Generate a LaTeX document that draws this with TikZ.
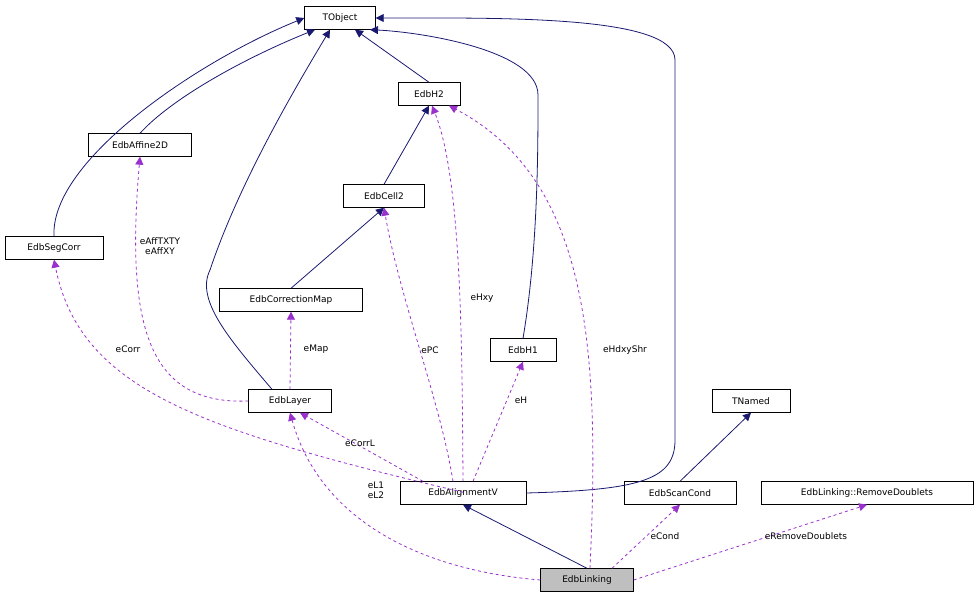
\documentclass[tikz,border=0pt]{standalone}
\usepackage{fontspec}
\setmainfont{DejaVu Sans}
\usetikzlibrary{arrows.meta}
\begin{document}
\begin{tikzpicture}[x=1pt,y=-1pt,
 box/.style={draw=black,fill=white,inner sep=0pt,minimum height=23pt,font=\fontsize{9}{10}\selectfont},
 inh/.style={draw={rgb,255:red,25;green,25;blue,112},-{Triangle[length=8pt,width=8pt]},thick},
 use/.style={draw={rgb,255:red,153;green,50;blue,204},dashed,-{Triangle[length=8pt,width=8pt]},thick},
 lab/.style={font=\fontsize{9}{10}\selectfont,align=center}]
\useasboundingbox (0,0) rectangle (979,601);
\node[box,minimum width=71pt] (tobj) at (340,18) {TObject};
\node[box,minimum width=62pt] (h2) at (429,94) {EdbH2};
\node[box,minimum width=103pt] (aff) at (140,145) {EdbAffine2D};
\node[box,minimum width=81pt] (cell) at (384,196) {EdbCell2};
\node[box,minimum width=98pt] (seg) at (54,248) {EdbSegCorr};
\node[box,minimum width=143pt] (cmap) at (291,300) {EdbCorrectionMap};
\node[box,minimum width=66pt] (h1) at (523,350) {EdbH1};
\node[box,minimum width=83pt] (layer) at (290,401) {EdbLayer};
\node[box,minimum width=78pt] (tnamed) at (751,401) {TNamed};
\node[box,minimum width=126pt] (av) at (463,493) {EdbAlignmentV};
\node[box,minimum width=112pt] (scan) at (680,493) {EdbScanCond};
\node[box,minimum width=212pt] (rd) at (867,493) {EdbLinking::RemoveDoublets};
\node[box,minimum width=93pt,fill={rgb,255:red,191;green,191;blue,191}] (lnk) at (587,580) {EdbLinking};
% inheritance
\draw[inh] (seg.north) .. controls (50,160) and (200,60) .. (tobj.west);
\draw[inh] (aff.north) .. controls (170,100) and (240,60) .. ([xshift=-25pt]tobj.south);
\draw[inh] ([xshift=-18pt]layer.north) .. controls (230,340) and (195,300) .. (210,270) .. controls (240,180) and (300,80) .. ([xshift=-10pt]tobj.south);
\draw[inh] (h2.north) -- ([xshift=15pt]tobj.south);
\draw[inh] (h1.north) .. controls (538,250) and (538,150) .. (538,95) .. controls (538,50) and (420,32) .. ([xshift=30pt]tobj.south);
\draw[inh] (av.east) .. controls (640,490) and (675,480) .. (675,440) -- (675,60) .. controls (675,15) and (500,18) .. (tobj.east);
\draw[inh] (cell.north) -- (h2.south);
\draw[inh] (cmap.north) -- (cell.south);
\draw[inh] (scan.north) -- (tnamed.south);
\draw[inh] (lnk.north) -- (av.south);
% usage
\draw[use] (layer.west) .. controls (150,405) and (125,330) .. (aff.south);
\node[lab] at (160,246) {eAffTXTY\\eAffXY};
\draw[use] ([xshift=-63pt,yshift=-11pt]av.south east |- av.north) .. controls (200,430) and (80,390) .. (seg.south);
\node[lab] at (128,349) {eCorr};
\draw[use] (layer.north) -- (cmap.south);
\node[lab] at (316,349) {eMap};
\draw[use] ([xshift=-40pt]av.north) -- ([xshift=10pt]layer.south);
\node[lab] at (360,443) {eCorrL};
\draw[use] (lnk.west) .. controls (420,570) and (320,520) .. (layer.south);
\node[lab] at (376,490) {eL1\\eL2};
\draw[use] ([xshift=-10pt]av.north) .. controls (440,400) and (400,300) .. (cell.south);
\node[lab] at (430,350) {ePC};
\draw[use] (av.north) .. controls (462,350) and (462,180) .. ([xshift=3pt]h2.south);
\node[lab] at (482,298) {eHxy};
\draw[use] ([xshift=3pt]lnk.north) .. controls (600,350) and (590,180) .. ([xshift=20pt]h2.south);
\node[lab] at (625,350) {eHdxyShr};
\draw[use] ([xshift=10pt]av.north) -- (h1.south);
\node[lab] at (521,400) {eH};
\draw[use] ([xshift=25pt]lnk.north) -- (scan.south);
\node[lab] at (665,536) {eCond};
\draw[use] (lnk.east) -- (rd.south);
\node[lab] at (806,536) {eRemoveDoublets};
\end{tikzpicture}
\end{document}
